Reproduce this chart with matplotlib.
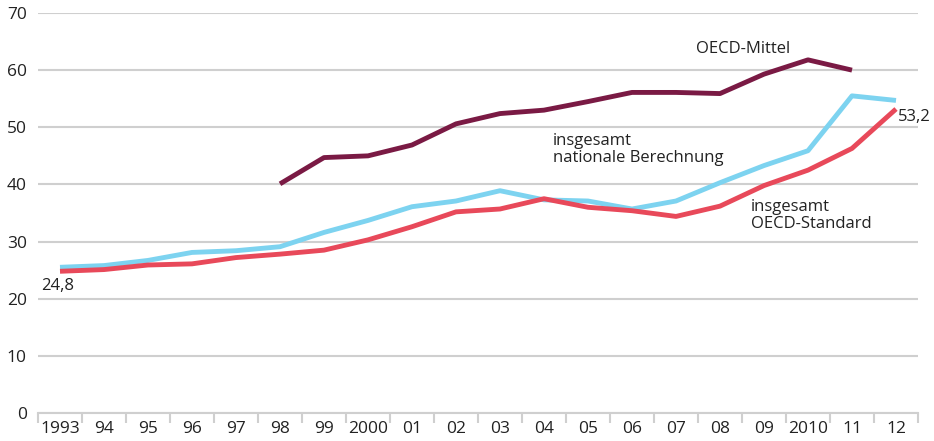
import numpy as np
import matplotlib.pyplot as plt

plt.rcParams["font.family"] = ["Open Sans", "DejaVu Sans"]

years = ["1993", "94", "95", "96", "97", "98", "99", "2000", "01", "02",
         "03", "04", "05", "06", "07", "08", "09", "2010", "11", "12"]

# insgesamt OECD-Standard
oecd_standard = [24.8, 25.1, 25.9, 26.1, 27.2, 27.8, 28.5, 30.3, 32.6, 35.2,
                 35.7, 37.5, 36.0, 35.4, 34.4, 36.2, 39.8, 42.5, 46.3, 53.2]
# insgesamt nationale Berechnung
national = [25.5, 25.8, 26.7, 28.1, 28.4, 29.1, 31.6, 33.7, 36.1, 37.1,
            38.9, 37.3, 37.1, 35.7, 37.1, 40.3, 43.3, 45.9, 55.5, 54.7]
# OECD-Mittel (1998 bis 2011)
oecd_mean = [40.1, 44.7, 45.0, 46.9, 50.6, 52.4, 53.0, 54.5, 56.1, 56.1,
             55.9, 59.3, 61.8, 60.0]
oecd_mean_start = 5

x = np.arange(len(years))
x_mean = np.arange(oecd_mean_start, oecd_mean_start + len(oecd_mean))

fig = plt.figure(figsize=(9.34, 4.41), dpi=100)
ax = fig.add_axes([38 / 934, 1 - 413 / 441, 880 / 934, 400 / 441])

grid_col = "#cfcfcf"
ax.plot(x, national, color="#7dd3f0", lw=3.5, solid_capstyle="butt", zorder=3)
ax.plot(x, oecd_standard, color="#e8495a", lw=3.5, solid_capstyle="butt", zorder=4)
ax.plot(x_mean, oecd_mean, color="#7a1a44", lw=3.5, solid_capstyle="butt", zorder=3)

ax.set_xlim(-0.5, len(years) - 0.5)
ax.set_ylim(0, 70)
ax.set_yticks(range(0, 71, 10))
ax.yaxis.grid(True, color=grid_col, lw=1.5)
ax.set_axisbelow(True)
for s in ["top", "right", "left"]:
    ax.spines[s].set_visible(False)
ax.spines["bottom"].set_color(grid_col)
ax.spines["bottom"].set_linewidth(1.5)

ax.set_xticks(x)
ax.set_xticklabels(years)
ax.set_xticks(np.arange(-0.5, len(years)), minor=True)
ax.tick_params(axis="x", which="major", length=0, pad=6, labelsize=12.5, colors="#222222")
ax.tick_params(axis="x", which="minor", length=7, width=1.5, color=grid_col)
ax.tick_params(axis="y", length=0, pad=8, labelsize=12.5, colors="#222222")

txt = dict(fontsize=12, color="#222222")
ax.text(15.52, 63.7, "OECD-Mittel", ha="center", va="center", **txt)
ax.text(11.2, 49.0, "insgesamt\nnationale Berechnung", ha="left", va="top",
        linespacing=1.1, **txt)
ax.text(15.7, 37.5, "insgesamt\nOECD-Standard", ha="left", va="top",
        linespacing=1.1, **txt)
ax.text(-0.43, 22.2, "24,8", ha="left", va="center", **txt)
ax.text(19.05, 51.8, "53,2", ha="left", va="center", clip_on=False, **txt)

fig.savefig("out.png", dpi=100)
